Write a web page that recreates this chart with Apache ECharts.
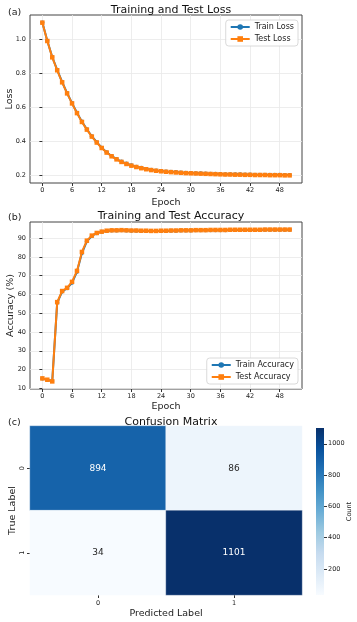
<!DOCTYPE html>
<html><head><meta charset="utf-8">
<script src="https://cdn.jsdelivr.net/npm/echarts@6/dist/echarts.min.js"></script>
<style>html,body{margin:0;padding:0;background:#fff}#c{width:357px;height:622px}</style>
</head><body><div id="c"></div>
<script>
var epochs = [];
for (var i = 0; i <= 50; i++) epochs.push(i);
var trainLoss = [1.101,0.994,0.898,0.822,0.751,0.686,0.627,0.570,0.518,0.473,0.432,0.397,0.365,0.338,0.316,0.298,0.283,0.271,0.261,0.253,0.246,0.240,0.235,0.231,0.228,0.225,0.223,0.221,0.219,0.217,0.216,0.215,0.214,0.213,0.212,0.211,0.210,0.209,0.209,0.208,0.208,0.207,0.207,0.206,0.206,0.206,0.205,0.205,0.205,0.204,0.204];
var testLoss = [1.100,0.992,0.896,0.820,0.749,0.684,0.625,0.568,0.516,0.471,0.430,0.395,0.363,0.336,0.314,0.296,0.281,0.269,0.259,0.251,0.244,0.238,0.233,0.229,0.226,0.223,0.221,0.219,0.217,0.215,0.214,0.213,0.212,0.211,0.210,0.209,0.208,0.207,0.207,0.206,0.206,0.205,0.205,0.204,0.204,0.204,0.203,0.203,0.203,0.202,0.202];
var trainAcc = [15.2,14.5,13.9,55.5,61.5,63.3,66.2,72.0,82.0,88.3,91.1,92.6,93.3,93.8,94.0,94.0,94.1,94.0,93.9,93.9,93.8,93.8,93.7,93.7,93.8,93.8,93.9,93.9,94.0,94.0,94.0,94.1,94.1,94.1,94.2,94.2,94.2,94.2,94.3,94.3,94.3,94.3,94.3,94.3,94.3,94.4,94.4,94.4,94.4,94.4,94.4];
var testAcc = [15.3,14.6,13.7,55.9,61.8,63.5,66.7,72.5,82.6,88.6,91.3,92.7,93.4,93.9,94.1,94.1,94.2,94.1,94.0,94.0,93.9,93.9,93.8,93.8,93.9,93.9,94.0,94.0,94.1,94.1,94.1,94.2,94.2,94.2,94.3,94.3,94.3,94.3,94.4,94.4,94.4,94.4,94.4,94.4,94.4,94.5,94.5,94.5,94.5,94.5,94.5];
var epochTicks = [0,6,12,18,24,30,36,42,48];
var lossTicks = [0.2,0.4,0.6,0.8,1.0];
var accTicks = [10,20,30,40,50,60,70,80,90];
var cmClasses = ['0','1'];
var cmValues = [[894,86],[34,1101]];
var cbTicks = [200,400,600,800,1000];
var blues = ['#f7fbff','#deebf7','#c6dbef','#9ecae1','#6baed6','#4292c6','#2171b5','#08519c','#08306b'];

var FONT = 'DejaVu Sans';
var BLUE = '#1f77b4', ORANGE = '#ff7f0e';

function pair(a,b){ return a.map(function(v,i){ return [v, b[i]]; }); }

function valXAxis(idx, gap){
  return {
    type:'value', gridIndex:idx, min:-2.5, max:52.5,
    name:'Epoch', nameLocation:'middle', nameGap:gap, nameMoveOverlap:false,
    nameTextStyle:{fontFamily:FONT, fontSize:9.5, color:'#222'},
    axisLine:{show:false},
    axisTick:{show:true, length:3, customValues:epochTicks, lineStyle:{color:'#333'}},
    axisLabel:{customValues:epochTicks, fontFamily:FONT, fontSize:6.5, color:'#222', margin:4},
    splitLine:{show:true, lineStyle:{color:'#e8e8e8', width:0.8}}
  };
}
function valYAxis(idx, mn, mx, ticks, name, fmt, gap){
  return {
    type:'value', gridIndex:idx, min:mn, max:mx,
    name:name, nameLocation:'middle', nameGap:gap, nameMoveOverlap:false,
    nameTextStyle:{fontFamily:FONT, fontSize:9.5, color:'#222'},
    axisLine:{show:false},
    axisTick:{show:true, length:3, customValues:ticks, lineStyle:{color:'#333'}},
    axisLabel:{customValues:ticks, fontFamily:FONT, fontSize:6.5, color:'#222', margin:4, formatter:fmt},
    splitLine:{show:true, lineStyle:{color:'#e8e8e8', width:0.8}}
  };
}
function lineSeries(name, data, color, symbol, size, xi, yi, z){
  return {
    type:'line', name:name, xAxisIndex:xi, yAxisIndex:yi, data:data,
    symbol:symbol, symbolSize:size, showSymbol:true, z:z,
    lineStyle:{color:color, width:2}, itemStyle:{color:color}, animation:false
  };
}

var heatData = [];
cmValues.forEach(function(row, r){
  row.forEach(function(v, c){
    heatData.push({value:[c, r, v], label:{color: v > 550 ? '#ffffff' : '#262626'}});
  });
});
var cbMin = 34, cbMax = 1101;

var chart = echarts.init(document.getElementById('c'), null, {renderer:'canvas'});
chart.setOption({
  animation:false,
  backgroundColor:'#fff',
  title:[
    {text:'Training and Test Loss', left:166, top:0, textAlign:'center', textStyle:{fontFamily:FONT, fontSize:11, fontWeight:'normal', color:'#111'}},
    {text:'Training and Test Accuracy', left:166, top:206, textAlign:'center', textStyle:{fontFamily:FONT, fontSize:11, fontWeight:'normal', color:'#111'}},
    {text:'Confusion Matrix', left:166, top:412, textAlign:'center', textStyle:{fontFamily:FONT, fontSize:11, fontWeight:'normal', color:'#111'}}
  ],
  graphic:[
    {type:'text', left:8, top:8, style:{text:'(a)', font:'9.5px "DejaVu Sans"', fill:'#222'}},
    {type:'text', left:8, top:213, style:{text:'(b)', font:'9.5px "DejaVu Sans"', fill:'#222'}},
    {type:'text', left:8, top:418, style:{text:'(c)', font:'9.5px "DejaVu Sans"', fill:'#222'}}
  ],
  legend:[
    {data:['Train Loss','Test Loss'], orient:'vertical', right:59, top:20, itemWidth:19, itemHeight:7, itemGap:4,
     padding:[3,4,3,4], backgroundColor:'rgba(255,255,255,0.85)', borderColor:'#d0d0d0', borderWidth:0.8, borderRadius:3,
     textStyle:{fontFamily:FONT, fontSize:8, color:'#222'}},
    {data:['Train Accuracy','Test Accuracy'], orient:'vertical', right:59, top:358, itemWidth:19, itemHeight:7, itemGap:4,
     padding:[3,4,3,4], backgroundColor:'rgba(255,255,255,0.85)', borderColor:'#d0d0d0', borderWidth:0.8, borderRadius:3,
     textStyle:{fontFamily:FONT, fontSize:8, color:'#222'}}
  ],
  grid:[
    {left:30, top:15, width:272, height:168, show:true, borderColor:'#444', borderWidth:1, backgroundColor:'transparent', containLabel:false, outerBoundsMode:'none'},
    {left:30, top:222, width:272, height:167, show:true, borderColor:'#444', borderWidth:1, backgroundColor:'transparent', containLabel:false, outerBoundsMode:'none'},
    {left:30, top:426, width:272, height:169, containLabel:false, outerBoundsMode:'none'},
    {left:316, top:428, width:8, height:167, containLabel:false, outerBoundsMode:'none'}
  ],
  xAxis:[
    valXAxis(0, 14.5),
    valXAxis(1, 13),
    {type:'category', gridIndex:2, data:cmClasses,
     name:'Predicted Label', nameLocation:'middle', nameGap:13.5, nameMoveOverlap:false,
     nameTextStyle:{fontFamily:FONT, fontSize:9.5, color:'#222'},
     axisLine:{show:false}, axisTick:{show:true, alignWithLabel:true, length:3, lineStyle:{color:'#333'}},
     axisLabel:{fontFamily:FONT, fontSize:6.5, color:'#222', margin:5}, splitLine:{show:false}, splitArea:{show:false}},
    {type:'category', gridIndex:3, data:['cb'], show:false}
  ],
  yAxis:[
    valYAxis(0, 0.157, 1.145, lossTicks, 'Loss', function(v){ return v.toFixed(1); }, 15),
    valYAxis(1, 9.66, 98.54, accTicks, 'Accuracy (%)', function(v){ return String(v); }, 14),
    {type:'category', gridIndex:2, data:cmClasses, inverse:true,
     name:'True Label', nameLocation:'middle', nameGap:12, nameMoveOverlap:false,
     nameTextStyle:{fontFamily:FONT, fontSize:9.5, color:'#222'},
     axisLine:{show:false}, axisTick:{show:true, alignWithLabel:true, length:3, lineStyle:{color:'#333'}},
     axisLabel:{fontFamily:FONT, fontSize:6.5, color:'#222', rotate:90, margin:4}, splitLine:{show:false}, splitArea:{show:false}},
    {type:'value', gridIndex:3, min:cbMin, max:cbMax, position:'right',
     name:'Count', nameLocation:'middle', nameGap:22, nameRotate:90, nameMoveOverlap:false,
     nameTextStyle:{fontFamily:FONT, fontSize:6.5, color:'#222'},
     axisLine:{show:false},
     axisTick:{show:true, length:3, customValues:cbTicks, lineStyle:{color:'#333'}},
     axisLabel:{customValues:cbTicks, fontFamily:FONT, fontSize:6.5, color:'#222', margin:4, formatter:function(v){ return String(v); }},
     splitLine:{show:false}}
  ],
  visualMap:{
    type:'continuous', seriesIndex:4, min:cbMin, max:cbMax, show:false,
    inRange:{color:blues}
  },
  series:[
    lineSeries('Train Loss', pair(epochs, trainLoss), BLUE, 'circle', 4, 0, 0, 2),
    lineSeries('Test Loss', pair(epochs, testLoss), ORANGE, 'rect', 4.5, 0, 0, 3),
    lineSeries('Train Accuracy', pair(epochs, trainAcc), BLUE, 'circle', 4, 1, 1, 2),
    lineSeries('Test Accuracy', pair(epochs, testAcc), ORANGE, 'rect', 4.5, 1, 1, 3),
    {type:'heatmap', xAxisIndex:2, yAxisIndex:2, data:heatData,
     itemStyle:{borderColor:'rgba(255,255,255,0.6)', borderWidth:0.5},
     label:{show:true, fontFamily:FONT, fontSize:9},
     emphasis:{disabled:true}},
    {type:'bar', xAxisIndex:3, yAxisIndex:3, data:[cbMax], barWidth:'100%', silent:true,
     itemStyle:{color:new echarts.graphic.LinearGradient(0, 1, 0, 0, blues.map(function(c, i){ return {offset:i/(blues.length-1), color:c}; }))}}
  ]
});
</script></body></html>
